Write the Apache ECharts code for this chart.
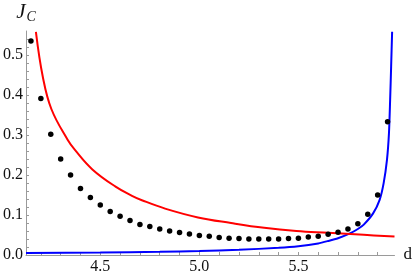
<!DOCTYPE html>
<html>
<head>
<meta charset="utf-8">
<script src="https://cdn.jsdelivr.net/npm/echarts@6/dist/echarts.min.js"></script>
<style>html,body{margin:0;padding:0;background:#fff}#c{width:415px;height:278px}</style>
</head>
<body>
<div id="c"></div>
<script>
// Data points (black dots)
const dotX = [4.15,4.20,4.25,4.30,4.35,4.40,4.45,4.50,4.55,4.60,4.65,4.70,4.75,4.80,4.85,4.90,4.95,5.00,5.05,5.10,5.15,5.20,5.25,5.30,5.35,5.40,5.45,5.50,5.55,5.60,5.65,5.70,5.75,5.80,5.85,5.90,5.95];
const dotY = [0.535,0.391,0.302,0.240,0.200,0.166,0.144,0.125,0.109,0.097,0.086,0.076,0.071,0.065,0.060,0.056,0.0525,0.049,0.047,0.044,0.042,0.041,0.040,0.040,0.040,0.040,0.041,0.042,0.045,0.047,0.052,0.057,0.065,0.078,0.102,0.150,0.333];
// Red curve
const redX = [4.175,4.21,4.253,4.335,4.373,4.46,4.577,4.66,4.71,4.827,4.993,5.16,5.327,5.49,5.65,5.83,5.985];
const redY = [0.558,0.445,0.365,0.288,0.262,0.214,0.171,0.148,0.137,0.116,0.094,0.080,0.068,0.060,0.0555,0.0505,0.046];
// Blue curve
const blueX = [4.125,4.5,4.8,5.0,5.2,5.4,5.5,5.6,5.65,5.70,5.76,5.80,5.83,5.877,5.91,5.93,5.947,5.957,5.963,5.968,5.973];
const blueY = [0.005,0.006,0.008,0.010,0.013,0.018,0.022,0.029,0.035,0.042,0.054,0.065,0.076,0.104,0.138,0.179,0.238,0.304,0.388,0.471,0.558];
// Axis ranges / tick labels
const xMin = 4.125, xMax = 5.985;
const yMin = 0, yMax = 0.56;
const xTickLabels = ['4.5','5.0','5.5'];
const yTickLabels = ['0.0','0.1','0.2','0.3','0.4','0.5'];

const pairs = (xs, ys) => xs.map((x, i) => [x, ys[i]]);
const serif = "'Liberation Serif', 'Times New Roman', serif";
const axisGrey = '#9a9a9a';

const chart = echarts.init(document.getElementById('c'), null, {renderer: 'canvas'});
chart.setOption({
  animation: false,
  grid: {left: 23, right: 20, top: 31, bottom: 23, containLabel: false},
  xAxis: {
    type: 'value', min: xMin, max: xMax, minInterval: 0.1, maxInterval: 0.1,
    name: 'd', nameLocation: 'end', nameGap: 9,
    nameTextStyle: {fontFamily: serif, fontSize: 17, color: '#111', verticalAlign: 'middle', padding: [3,0,0,0]},
    axisLine: {show: true, onZero: false, lineStyle: {color: axisGrey, width: 1}},
    axisTick: {show: true, inside: true, length: 3, lineStyle: {color: axisGrey}},
    splitLine: {show: false},
    axisLabel: {
      fontFamily: serif, fontSize: 16, color: '#111', margin: 4,
      showMinLabel: false, showMaxLabel: false,
      formatter: v => { const s = v.toFixed(1); return (xTickLabels.includes(s) && Math.abs(v - parseFloat(s)) < 1e-6) ? s : ''; }
    }
  },
  yAxis: {
    type: 'value', min: yMin, max: yMax, interval: 0.02,
    name: '{j|J}{c|C}', nameLocation: 'end', nameGap: 7,
    nameTextStyle: {
      align: 'center',
      rich: {
        j: {fontFamily: serif, fontStyle: 'italic', fontSize: 21, color: '#111'},
        c: {fontFamily: serif, fontStyle: 'italic', fontSize: 14, color: '#111', padding: [10,0,0,1]}
      }
    },
    axisLine: {show: true, lineStyle: {color: axisGrey, width: 1}},
    axisTick: {show: true, inside: true, length: 3, lineStyle: {color: axisGrey}},
    splitLine: {show: false},
    axisLabel: {
      fontFamily: serif, fontSize: 16, color: '#111', margin: 3,
      showMaxLabel: false,
      formatter: v => { const s = v.toFixed(1); return (yTickLabels.includes(s) && Math.abs(v - parseFloat(s)) < 1e-6) ? s : ''; }
    }
  },
  series: [
    {type: 'line', data: pairs(blueX, blueY), showSymbol: false, smooth: 0.25,
     lineStyle: {color: '#0000ff', width: 2}, itemStyle: {color: '#0000ff'}, clip: true, z: 2},
    {type: 'line', data: pairs(redX, redY), showSymbol: false, smooth: 0.4,
     lineStyle: {color: '#ff0000', width: 2}, itemStyle: {color: '#ff0000'}, clip: true, z: 3},
    {type: 'scatter', data: pairs(dotX, dotY), symbol: 'circle', symbolSize: 5.5,
     itemStyle: {color: '#000', opacity: 1}, z: 4}
  ]
});
</script>
</body>
</html>
